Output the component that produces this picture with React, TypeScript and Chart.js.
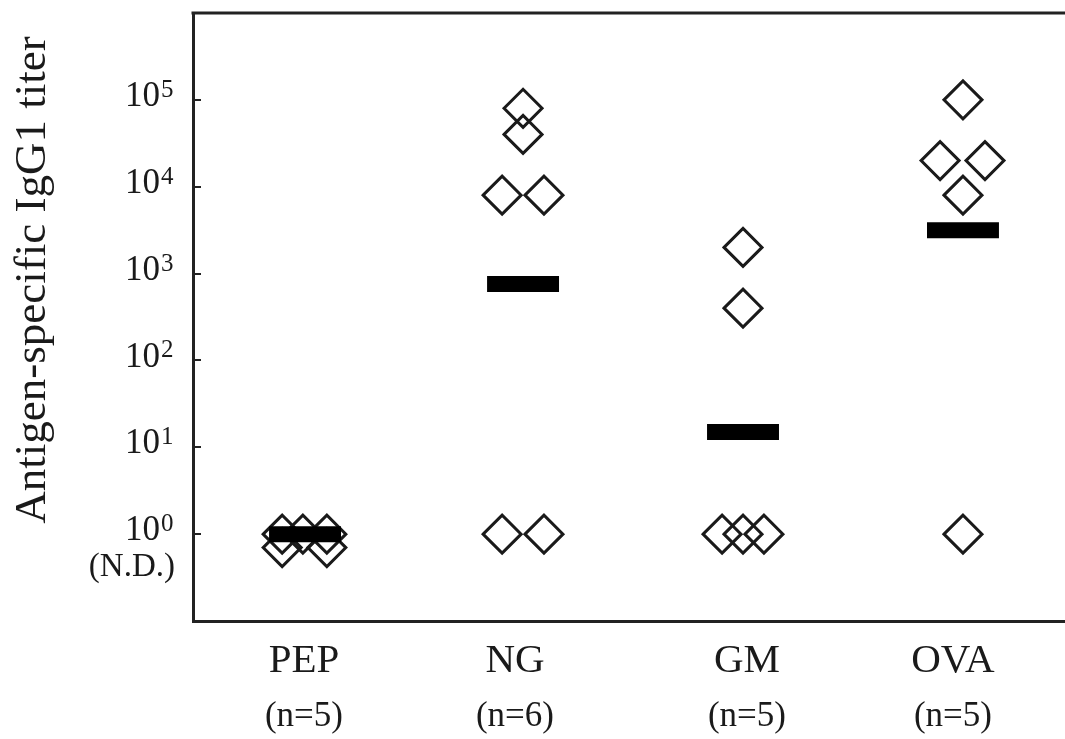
import React, { useEffect, useRef } from 'react';
import { Chart, registerables } from 'chart.js';

Chart.register(...registerables);

// ---------- data ----------
const categories = ['PEP', 'NG', 'GM', 'OVA'];
const groupSizes = ['(n=5)', '(n=6)', '(n=5)', '(n=5)'];
const pepTiters = [1, 1, 1, 0.7, 0.7];
const ngTiters = [80000, 40000, 8000, 8000, 1, 1];
const gmTiters = [2000, 400, 1, 1, 1];
const ovaTiters = [100000, 20000, 20000, 8000, 1];
const meanTiters = [1, 760, 15, 3150];
const yTickExponents = [0, 1, 2, 3, 4, 5];
const ndTickValue = 0.41;
const ndTickLabel = '(N.D.)';
const yTitle = 'Antigen-specific IgG1 titer';

// ---------- layout (positions on the x axis, not data) ----------
const groupCenters = [0.514, 1.514, 2.523, 3.532];
const labelCenters = [0.509, 1.477, 2.541, 3.486];
const jitter = [
  [-0.105, -0.01, 0.1, -0.105, 0.1],
  [0, 0, -0.096, 0.096, -0.096, 0.096],
  [0, 0, -0.096, 0, 0.096],
  [0, -0.105, 0.101, 0, 0],
];
const barHalfWidth = 0.165;

const FONT = "'Liberation Serif', 'Times New Roman', serif";
const INK = '#1a1a1a';

export default function App() {
  const ref = useRef<HTMLCanvasElement | null>(null);

  useEffect(() => {
    if (!ref.current) return;
    const groups = [pepTiters, ngTiters, gmTiters, ovaTiters];
    const points: { x: number; y: number }[] = [];
    groups.forEach((vals, g) => {
      vals.forEach((v, i) => points.push({ x: groupCenters[g] + jitter[g][i], y: v }));
    });
    const barPts: { x: number; y: number | null }[] = [];
    meanTiters.forEach((m, g) => {
      barPts.push({ x: groupCenters[g] - barHalfWidth, y: m });
      barPts.push({ x: groupCenters[g] + barHalfWidth, y: m });
      barPts.push({ x: groupCenters[g] + barHalfWidth + 0.01, y: null });
    });

    const framePlugin = {
      id: 'frameAndTitle',
      afterDraw(chart: any) {
        const ctx = chart.ctx;
        const a = chart.chartArea;
        const y = chart.scales.y;
        ctx.save();
        // top frame line
        ctx.strokeStyle = '#222';
        ctx.lineWidth = 3;
        ctx.beginPath();
        ctx.moveTo(a.left - 1.5, a.top);
        ctx.lineTo(a.right + 2, a.top);
        ctx.stroke();
        // inward tick marks
        ctx.lineWidth = 2;
        yTickExponents.forEach((e) => {
          const py = Math.round(y.getPixelForValue(Math.pow(10, e)));
          ctx.beginPath();
          ctx.moveTo(a.left, py);
          ctx.lineTo(a.left + 8, py);
          ctx.stroke();
        });
        // tick labels 10^n with superscript
        ctx.fillStyle = INK;
        const xRight = a.left - 33;
        yTickExponents.forEach((e) => {
          const py = y.getPixelForValue(Math.pow(10, e));
          ctx.font = `35px ${FONT}`;
          ctx.textAlign = 'right';
          ctx.textBaseline = 'middle';
          ctx.fillText('10', xRight, py - 3);
          ctx.font = `25px ${FONT}`;
          ctx.textAlign = 'left';
          ctx.textBaseline = 'alphabetic';
          ctx.fillText(String(e), xRight + 1, py - 3);
        });
        const pnd = y.getPixelForValue(ndTickValue);
        ctx.font = `33px ${FONT}`;
        ctx.textAlign = 'right';
        ctx.textBaseline = 'middle';
        ctx.fillText(ndTickLabel, a.left - 18, pnd);
        // axis title
        ctx.translate(45, 280);
        ctx.rotate(-Math.PI / 2);
        ctx.font = `45px ${FONT}`;
        ctx.textAlign = 'center';
        ctx.textBaseline = 'alphabetic';
        ctx.fillText(yTitle, 0, 0);
        ctx.restore();
      },
    };

    const chart = new Chart(ref.current, {
      type: 'scatter',
      data: {
        datasets: [
          {
            label: 'mean',
            data: barPts as any,
            showLine: true,
            spanGaps: false,
            borderColor: '#000',
            borderWidth: 16,
            borderCapStyle: 'butt',
            pointRadius: 0,
            order: 0,
          },
          {
            label: 'titer',
            data: points,
            pointStyle: 'rectRot',
            pointRadius: 19,
            pointBorderWidth: 3,
            pointBorderColor: INK,
            pointBackgroundColor: 'rgba(0,0,0,0)',
            order: 1,
          },
        ],
      },
      options: {
        animation: false,
        responsive: false,
        events: [],
        layout: { autoPadding: false, padding: { top: 13, bottom: 1, left: 0, right: 0 } },
        plugins: { legend: { display: false }, tooltip: { enabled: false } },
        scales: {
          x: {
            type: 'linear',
            position: 'bottom',
            min: 0,
            max: 4,
            weight: 0,
            grid: { display: false, drawTicks: false },
            border: { display: true, width: 3, color: '#222' },
            afterBuildTicks: (s: any) => {
              s.ticks = labelCenters.map((v) => ({ value: v }));
            },
            afterFit: (s: any) => {
              s.height = 65;
              s.paddingLeft = 0;
              s.paddingRight = 0;
            },
            ticks: {
              autoSkip: false,
              maxRotation: 0,
              padding: 16,
              color: INK,
              font: { family: FONT, size: 41 },
              callback: (_v: any, i: number) => categories[i],
            },
          },
          x2: {
            type: 'linear',
            position: 'bottom',
            min: 0,
            max: 4,
            weight: 1,
            grid: { display: false, drawTicks: false },
            border: { display: false },
            afterBuildTicks: (s: any) => {
              s.ticks = labelCenters.map((v) => ({ value: v }));
            },
            afterFit: (s: any) => {
              s.height = 52;
              s.paddingLeft = 0;
              s.paddingRight = 0;
            },
            ticks: {
              autoSkip: false,
              maxRotation: 0,
              padding: 10,
              color: INK,
              font: { family: FONT, size: 35 },
              callback: (_v: any, i: number) => groupSizes[i],
            },
          },
          y: {
            type: 'logarithmic',
            position: 'left',
            min: 0.1,
            max: 1000000,
            grid: { display: false, drawTicks: false },
            border: { display: true, width: 3, color: '#222' },
            afterFit: (s: any) => {
              s.width = 193;
              s.paddingTop = 0;
              s.paddingBottom = 0;
            },
            ticks: { display: false },
          },
        },
      },
      plugins: [framePlugin],
    });
    return () => chart.destroy();
  }, []);

  return (
    <div style={{ position: 'absolute', left: 0, top: 0, width: 1065, height: 739, background: '#fff' }}>
      <canvas ref={ref} width={1065} height={739} style={{ display: 'block' }} />
    </div>
  );
}
